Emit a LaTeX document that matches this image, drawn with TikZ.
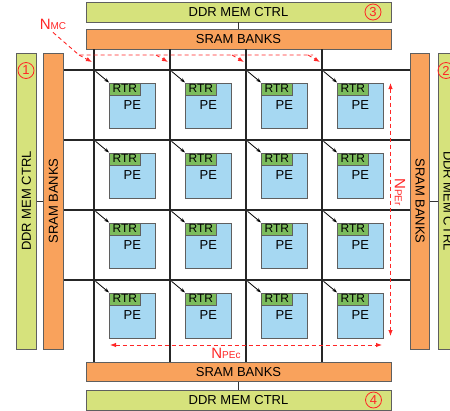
\documentclass[tikz,border=0pt]{standalone}
\usepackage{fontspec}
\setmainfont{Liberation Sans}
\usetikzlibrary{calc,arrows.meta,positioning}
\definecolor{DdrGreen}{RGB}{214,226,124}
\definecolor{SramOrange}{RGB}{249,162,92}
\definecolor{PeBlue}{RGB}{166,216,242}
\definecolor{RtrGreen}{RGB}{124,188,92}
\definecolor{EdgeGray}{RGB}{95,95,95}
\definecolor{NoteRed}{RGB}{255,38,38}

\begin{document}
\begin{tikzpicture}[x=1pt, y=-1pt, >=Latex,
  bar/.style={draw=EdgeGray, line width=0.8pt, inner sep=0pt, font=\fontsize{13}{13}\selectfont},
  ddr/.style={bar, fill=DdrGreen},
  sram/.style={bar, fill=SramOrange},
  hbar/.style={minimum width=305pt, minimum height=20pt},
  vbar/.style={minimum width=296pt, minimum height=20pt},
  pe/.style={draw=EdgeGray, line width=0.7pt, fill=PeBlue, minimum width=46pt, minimum height=45pt,
             inner sep=0pt, font=\fontsize{13}{13}\selectfont},
  rtr/.style={draw=EdgeGray, line width=0.7pt, fill=RtrGreen, minimum width=31pt, minimum height=12pt,
              inner sep=0pt, font=\fontsize{12}{12}\selectfont},
  wire/.style={line width=1.6pt, draw=black!85},
  tap/.style={line width=0.7pt, draw=black!80},
  hop/.style={->, line width=0.8pt, >={Stealth[length=5pt,width=3.5pt]}, shorten <=2pt},
  note/.style={draw=NoteRed, line width=0.9pt, dash pattern=on 4pt off 3pt,
               >={Latex[length=6pt,width=4.5pt]}},
  tag/.style={text=NoteRed, inner sep=0pt},
  num/.style={circle, draw=NoteRed, line width=0.8pt, text=NoteRed, minimum size=16pt,
              inner sep=0pt, font=\fontsize{13}{13}\selectfont}]
  \useasboundingbox (0,0) rectangle (450,410);
  \clip (0,0) rectangle (450,410);

  % memory controllers and SRAM banks
  \node[ddr, hbar] (ddrT) at (238.5,12) {DDR MEM CTRL};
  \node[sram, hbar] (sramT) at (238.5,39) {SRAM BANKS};
  \node[sram, hbar, minimum height=19pt] (sramB) at (238.5,372) {SRAM BANKS};
  \node[ddr, hbar] (ddrB) at (238.5,400) {DDR MEM CTRL};
  \node[ddr, vbar, rotate=90] (ddrL) at (26.3,201) {DDR MEM CTRL};
  \node[sram, vbar, rotate=90] (sramL) at (53.3,201) {SRAM BANKS};
  \node[sram, vbar, rotate=-90, minimum height=18.5pt] (sramR) at (420,201) {SRAM BANKS};
  \node[ddr, vbar, rotate=-90] (ddrR) at (448,201) {DDR MEM CTRL};
  \draw[tap] (ddrT.south) -- (sramT.north);
  \draw[tap] (sramB.south) -- (ddrB.north);
  \draw[tap] (ddrL.south) -- (sramL.north);
  \draw[tap] (sramR.north) -- (ddrR.south);

  \node[num] (num1) at (26,70.5) {1};
  \node[num] (num2) at (446,70.5) {2};
  \node[num] (num3) at (373,12) {3};
  \node[num] (num4) at (373.5,400) {4};

  % mesh
  \foreach \c [count=\i] in {94,170,246,322}
    \coordinate (col\i) at (\c,0);
  \foreach \r [count=\j] in {70,140,210,280}
    \coordinate (row\j) at (0,\r);
  \foreach \i in {1,...,4}
    \draw[wire] (sramT.south -| col\i) -- (sramB.north -| col\i);
  \foreach \j in {1,...,4}
    \draw[wire] (sramL.south |- row\j) -- (sramR.south |- row\j);

  \foreach \c [count=\i] in {94,170,246,322}
    \foreach \r [count=\j] in {70,140,210,280} {
      \coordinate (g\i\j) at (\c,\r);
      \node[pe, anchor=north west] (pe\i\j) at (\c+15,\r+12.5) {PE};
      \node[rtr, anchor=north west] (rtr\i\j) at (pe\i\j.north west) {RTR};
      \draw[hop] (g\i\j) -- (rtr\i\j.north west);
    }

  % annotations
  \node[tag] (nmc) at (53,24) {\fontsize{15}{15}\selectfont N\fontsize{10}{10}\selectfont MC};
  \coordinate (mcBus) at (79,55);
  \coordinate (mcEnd) at (313,55);
  \draw[note] ([yshift=-3pt]nmc.south) -- (mcBus) -- (mcEnd);
  \draw[note, ->] (mcBus) -- ($(g11)+(-2,-8)$);
  \foreach \i in {2,3,4}
    \draw[note, ->] ($(g\i1)+(-14,-15)$) -- ($(g\i1)+(-2,-8)$);

  \coordinate (prTop) at (390.5,83);
  \coordinate (prBot) at (390.5,336);
  \draw[note, <->] (prTop) -- (prBot);
  \node[tag, rotate=-90] (npr) at (400,192) {\fontsize{15}{15}\selectfont N\fontsize{10}{10}\selectfont PEr};

  \coordinate (pcLeft) at (110,345);
  \coordinate (pcRight) at (382,345);
  \draw[note, <->] (pcLeft) -- (pcRight);
  \node[tag] (npc) at (226,353) {\fontsize{15}{15}\selectfont N\fontsize{10}{10}\selectfont PEc};
\end{tikzpicture}
\end{document}
